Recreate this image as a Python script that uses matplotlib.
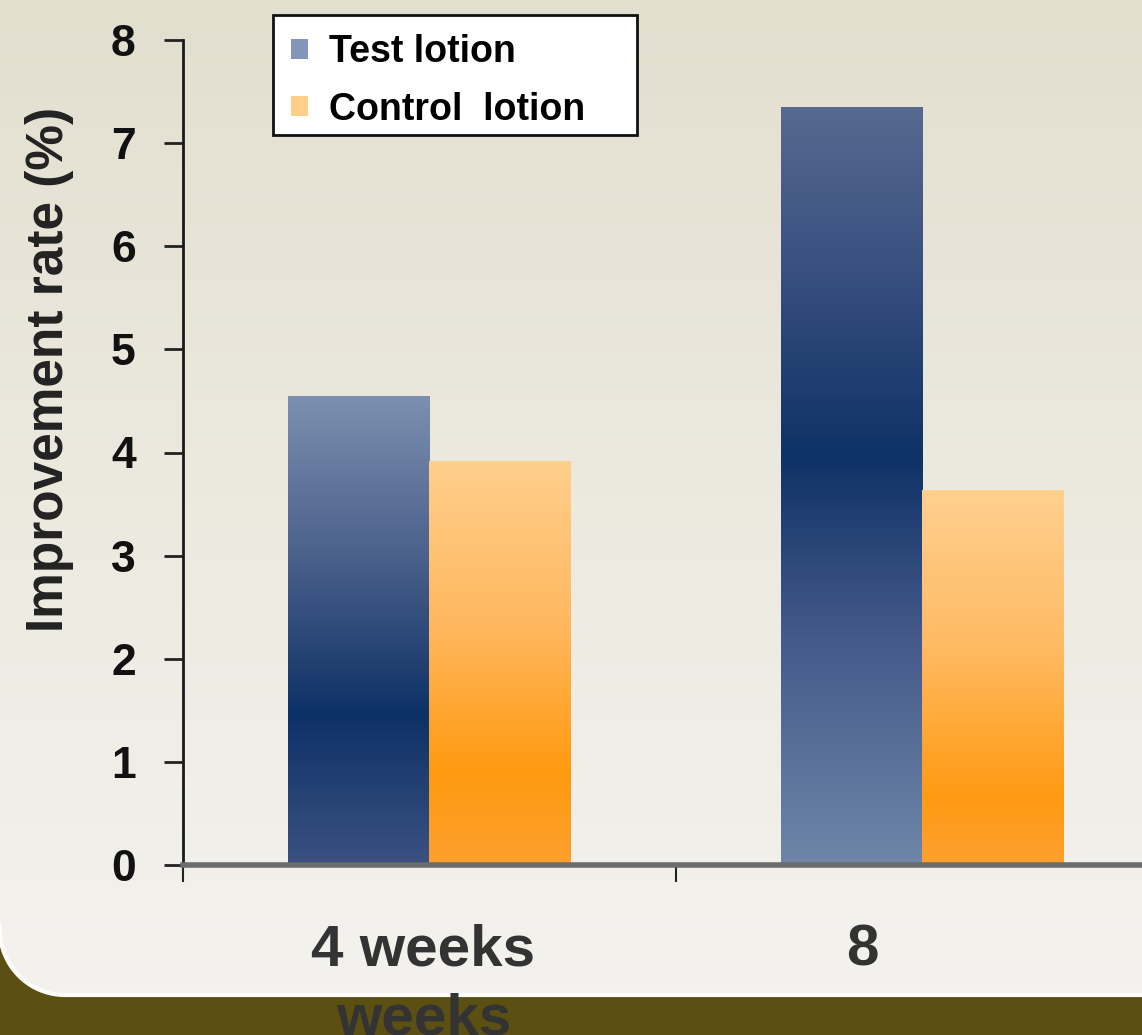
import numpy as np
import matplotlib
matplotlib.use("Agg")
import matplotlib.pyplot as plt
from matplotlib.colors import LinearSegmentedColormap
from matplotlib.patches import Patch, Rectangle, Polygon

plt.rcParams['font.family'] = ['Liberation Sans', 'DejaVu Sans']

# data
categories = ["4 weeks\nweeks", "8"]
series_names = ["Test lotion", "Control  lotion"]
test_values = [4.55, 7.35]
control_values = [3.92, 3.64]
y_ticks = [0, 1, 2, 3, 4, 5, 6, 7, 8]

# gradient stops (fraction of bar height from bottom, colour)
test_grad = [
    [(0.0, '#3b5182'), (0.32, '#0d3166'), (0.65, '#4a5f8a'), (1.0, '#7c90b0')],
    [(0.0, '#6e86a8'), (0.3, '#45598a'), (0.54, '#0e3266'), (0.8, '#3b5181'), (1.0, '#57698f')],
]
ctrl_grad = [
    [(0.0, '#fca02e'), (0.23, '#ff9a10'), (0.6, '#ffb860'), (1.0, '#fecf8c')],
    [(0.0, '#fca030'), (0.18, '#ff9a12'), (0.6, '#ffbb66'), (1.0, '#fed08e')],
]

W, H = 1142, 1035
fig = plt.figure(figsize=(W / 100, H / 100), dpi=100)

# background: olive band and light panel with a rounded bottom-left corner
bg = fig.add_axes([0, 0, 1, 1], zorder=-1)
bg.axis('off')
bg.add_patch(Rectangle((0, 0), W, H, color='#5b4f12', zorder=0))
r, pb = 65, 995
ang = np.linspace(np.pi, np.pi / 2, 30)
arc = np.column_stack([r + r * np.cos(ang), pb - r + r * np.sin(ang)])
verts = np.vstack([[[-5, -5], [-5, pb - r]], arc, [[W + 5, pb], [W + 5, -5]]])
panel = Polygon(verts, closed=True, facecolor='none', edgecolor='none', zorder=1)
bg.add_patch(panel)
rim = Polygon(np.vstack([[[-5, pb - r - 40]], arc, [[W + 5, pb]]]), closed=False,
              fill=False, edgecolor='#fdfcf8', lw=3, zorder=3)
bg.add_patch(rim)
pcmap = LinearSegmentedColormap.from_list('panel', ['#e3dfcf', '#ece9df', '#f4f2ee'])
im = bg.imshow(np.linspace(0, 1, 256).reshape(-1, 1), cmap=pcmap, aspect='auto',
               extent=(0, W, pb, 0), origin='upper', interpolation='bicubic', zorder=2)
im.set_clip_path(panel)
bg.set_xlim(0, W)
bg.set_ylim(H, 0)

# legend frame (drawn in pixel coordinates)
bg.add_patch(Rectangle((273, 15), 364, 120, facecolor='white', edgecolor='#111111',
                       lw=2, zorder=4))

ax = fig.add_axes([183 / W, 170 / H, 986 / W, 825 / H])
ax.patch.set_alpha(0)

x = np.arange(len(categories))
bw = 0.288
bars_t = ax.bar(x, test_values, -bw, align='edge', zorder=2)
bars_c = ax.bar(x, control_values, bw, align='edge', zorder=2)


def gradient_bar(bar, stops):
    x0, y0 = bar.get_x(), bar.get_y()
    w, h = bar.get_width(), bar.get_height()
    cmap = LinearSegmentedColormap.from_list('g', stops)
    img = ax.imshow(np.linspace(0, 1, 256).reshape(-1, 1), cmap=cmap, aspect='auto',
                    extent=(x0, x0 + w, y0, y0 + h), origin='lower',
                    interpolation='bicubic', zorder=2)
    img.set_clip_path(bar)
    bar.set_facecolor('none')
    bar.set_edgecolor('none')


for b, s in zip(bars_t, test_grad):
    gradient_bar(b, s)
for b, s in zip(bars_c, ctrl_grad):
    gradient_bar(b, s)

ax.set_xlim(-0.5, 1.5)
ax.set_ylim(0, 8)
ax.set_yticks(y_ticks)
ax.set_yticklabels([str(t) for t in y_ticks], fontsize=32, fontweight='bold', color='#111111')
ax.tick_params(axis='y', direction='out', length=14, width=2, pad=20, color='#222222')
ax.set_xticks([-0.5, 0.5, 1.5])
ax.set_xticklabels([])
ax.tick_params(axis='x', direction='out', length=12, width=1.5, color='#222222')

for s in ['top', 'right']:
    ax.spines[s].set_visible(False)
ax.spines['left'].set_linewidth(2)
ax.spines['left'].set_color('#1a1a1a')
ax.spines['bottom'].set_linewidth(4)
ax.spines['bottom'].set_color('#6c6c6c')
ax.spines['bottom'].set_zorder(3)

offsets = [-6, -60]
for i, lab in enumerate(categories):
    ax.annotate(lab, xy=(x[i], 0), xycoords='data', xytext=(offsets[i], -58),
                textcoords='offset pixels', ha='center', va='top', fontsize=42,
                fontweight='bold', color='#333333', annotation_clip=False,
                linespacing=1.38)

fig.text(50 / W, 1 - 369 / H, "Improvement rate (%)", rotation=90, ha='center',
         va='center', fontsize=37, fontweight='bold', color='#222222')

handles = [Patch(facecolor='#8297b7', edgecolor='none'),
           Patch(facecolor='#fdcf8a', edgecolor='none')]
leg = ax.legend(handles, series_names, loc='upper left',
                bbox_to_anchor=(291 / W, 1 - 34 / H), bbox_transform=fig.transFigure,
                prop={'size': 27, 'weight': 'bold'}, frameon=False,
                handlelength=0.45, handleheight=0.45, handletextpad=0.55,
                borderpad=0.0, labelspacing=0.58, borderaxespad=0)

fig.savefig('out.png', dpi=100)
